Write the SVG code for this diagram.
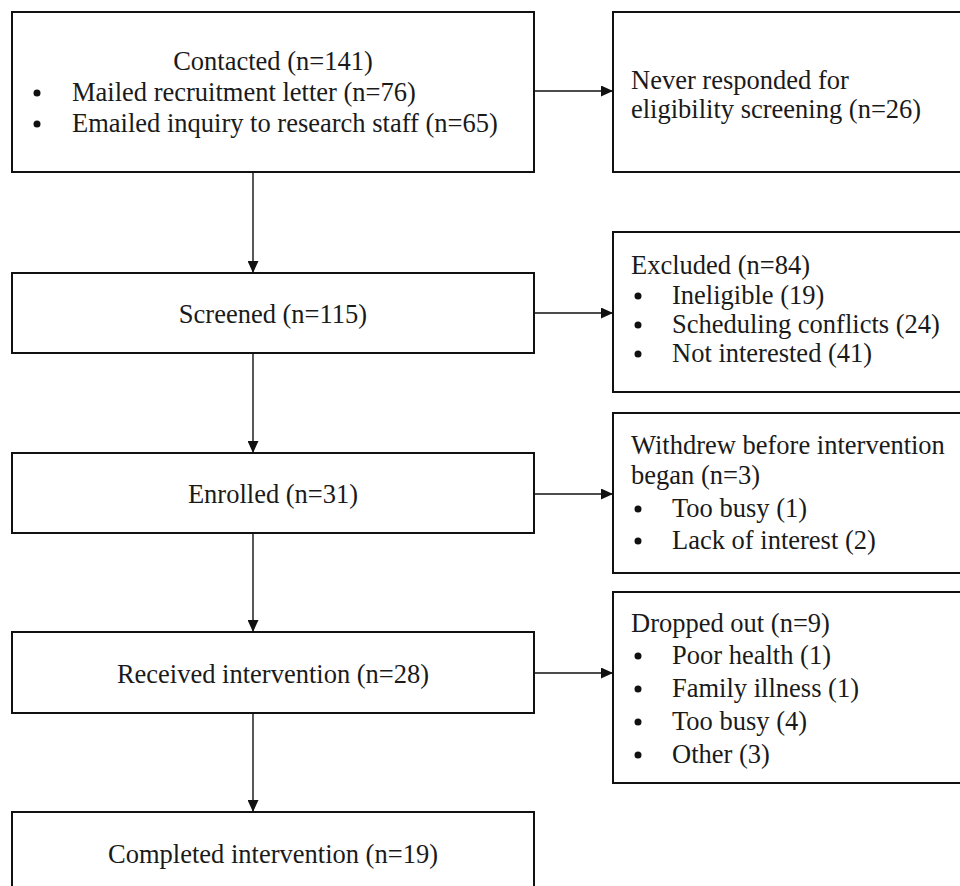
<svg xmlns="http://www.w3.org/2000/svg" width="960" height="886" viewBox="0 0 960 886">
<defs>
<style>
.box{fill:#fff;stroke:#111;stroke-width:2}
.t{font-family:"Liberation Serif","Times New Roman",serif;font-size:26.5px;fill:#1a1a1a}
.c{text-anchor:middle}
.conn{stroke:#111;stroke-width:1.4;fill:none}
.dot{fill:#111}
</style>
<marker id="ah" markerUnits="userSpaceOnUse" markerWidth="12" markerHeight="11" refX="12" refY="5.5" orient="auto">
<path d="M0,0 L12,5.5 L0,11 z" fill="#111"/>
</marker>
</defs>
<rect width="960" height="886" fill="#fff"/>
<g id="connectors">
<line class="conn" x1="534" y1="91" x2="613" y2="91" marker-end="url(#ah)"/>
<line class="conn" x1="534" y1="313" x2="613" y2="313" marker-end="url(#ah)"/>
<line class="conn" x1="534" y1="494" x2="613" y2="494" marker-end="url(#ah)"/>
<line class="conn" x1="534" y1="673" x2="613" y2="673" marker-end="url(#ah)"/>
<line class="conn" x1="253" y1="172" x2="253" y2="273" marker-end="url(#ah)"/>
<line class="conn" x1="253" y1="353" x2="253" y2="453" marker-end="url(#ah)"/>
<line class="conn" x1="253" y1="533" x2="253" y2="632" marker-end="url(#ah)"/>
<line class="conn" x1="253" y1="713" x2="253" y2="812" marker-end="url(#ah)"/>
</g>
<g id="contacted">
<rect class="box" x="12" y="12" width="522" height="160"/>
<text class="t c" x="273" y="70">Contacted (n=141)</text>
<circle class="dot" cx="37" cy="93" r="3.5"/>
<text class="t" x="72" y="101">Mailed recruitment letter (n=76)</text>
<circle class="dot" cx="37" cy="124" r="3.5"/>
<text class="t" x="72" y="132">Emailed inquiry to research staff (n=65)</text>
</g>
<g id="never-responded">
<rect class="box" x="613" y="12" width="360" height="160"/>
<text class="t" x="631" y="89">Never responded for</text>
<text class="t" x="631" y="118">eligibility screening (n=26)</text>
</g>
<g id="screened">
<rect class="box" x="12" y="273" width="522" height="80"/>
<text class="t c" x="273" y="323">Screened (n=115)</text>
</g>
<g id="excluded">
<rect class="box" x="613" y="232" width="360" height="160"/>
<text class="t" x="631" y="274">Excluded (n=84)</text>
<circle class="dot" cx="638" cy="296" r="3.5"/>
<text class="t" x="672" y="304">Ineligible (19)</text>
<circle class="dot" cx="638" cy="325" r="3.5"/>
<text class="t" x="672" y="333">Scheduling conflicts (24)</text>
<circle class="dot" cx="638" cy="354" r="3.5"/>
<text class="t" x="672" y="362">Not interested (41)</text>
</g>
<g id="enrolled">
<rect class="box" x="12" y="453" width="522" height="80"/>
<text class="t c" x="273" y="503">Enrolled (n=31)</text>
</g>
<g id="withdrew">
<rect class="box" x="613" y="413" width="360" height="160"/>
<text class="t" x="631" y="454">Withdrew before intervention</text>
<text class="t" x="631" y="484">began (n=3)</text>
<circle class="dot" cx="638" cy="509" r="3.5"/>
<text class="t" x="672" y="517">Too busy (1)</text>
<circle class="dot" cx="638" cy="541" r="3.5"/>
<text class="t" x="672" y="549">Lack of interest (2)</text>
</g>
<g id="received">
<rect class="box" x="12" y="632" width="522" height="81"/>
<text class="t c" x="273" y="683">Received intervention (n=28)</text>
</g>
<g id="dropped">
<rect class="box" x="613" y="592" width="360" height="191"/>
<text class="t" x="631" y="632">Dropped out (n=9)</text>
<circle class="dot" cx="638" cy="656" r="3.5"/>
<text class="t" x="672" y="664">Poor health (1)</text>
<circle class="dot" cx="638" cy="689" r="3.5"/>
<text class="t" x="672" y="697">Family illness (1)</text>
<circle class="dot" cx="638" cy="722" r="3.5"/>
<text class="t" x="672" y="730">Too busy (4)</text>
<circle class="dot" cx="638" cy="755" r="3.5"/>
<text class="t" x="672" y="763">Other (3)</text>
</g>
<g id="completed">
<rect class="box" x="12" y="812" width="522" height="90"/>
<text class="t c" x="273" y="863">Completed intervention (n=19)</text>
</g>
</svg>
